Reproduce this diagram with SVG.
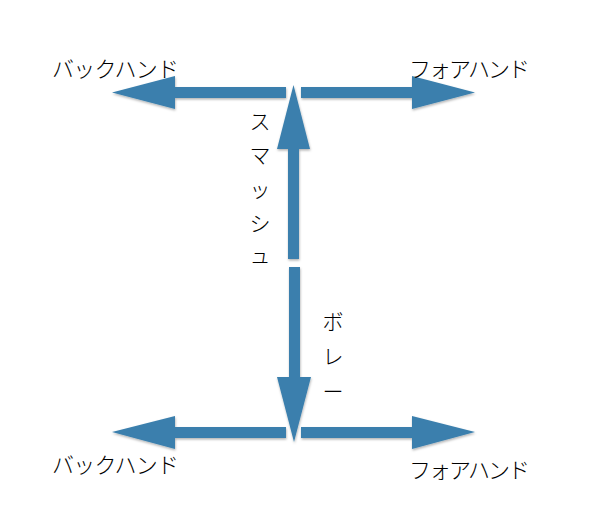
<svg xmlns="http://www.w3.org/2000/svg" width="601" height="526" viewBox="0 0 601 526">
<style>
.arr{fill:#3a7fad;filter:url(#sh)}
.t{font-family:"Noto Sans CJK JP","Noto Sans",sans-serif;font-size:22px;font-weight:300;fill:#000}
.v{font-family:"Noto Sans CJK JP","Noto Sans",sans-serif;font-size:21px;font-weight:300;fill:#000;text-anchor:middle}
</style>
<defs>
<filter id="sh" x="-20%" y="-20%" width="140%" height="140%">
<feDropShadow dx="0.5" dy="1.5" stdDeviation="1.2" flood-color="#000" flood-opacity="0.3"/>
</filter>
</defs>
<rect width="601" height="526" fill="#fff"/>
<g id="connectors">
<polygon class="arr" points="286,87 175,87 175,76 112,92.5 175,109 175,98 286,98"/>
<polygon class="arr" points="301,87 412,87 412,76 475,92.5 412,109 412,98 301,98"/>
<polygon class="arr" points="288,259 288,149 277,149 293.5,85 310,149 299,149 299,259"/>
<polygon class="arr" points="289,267 289,377 277,377 294,442 311,377 300,377 300,267"/>
<polygon class="arr" points="286,427 175,427 175,416 112,432 175,449 175,438 286,438"/>
<polygon class="arr" points="301,427 412,427 412,416 475,432 412,449 412,438 301,438"/>
</g>
<g id="backhand-top"><text class="t" x="52" y="77" textLength="127" lengthAdjust="spacing">バックハンド</text></g>
<g id="forehand-top"><text class="t" x="409" y="77" textLength="121" lengthAdjust="spacing">フォアハンド</text></g>
<g id="backhand-bottom"><text class="t" x="52" y="473" textLength="127" lengthAdjust="spacing">バックハンド</text></g>
<g id="forehand-bottom"><text class="t" x="409" y="478" textLength="121" lengthAdjust="spacing">フォアハンド</text></g>
<g id="smash">
<text class="v" x="260" y="129">ス</text>
<text class="v" x="260" y="163">マ</text>
<text class="v" x="260" y="197">ッ</text>
<text class="v" x="260" y="231">シ</text>
<text class="v" x="260" y="263">ュ</text>
</g>
<g id="volley">
<text class="v" x="333" y="329">ボ</text>
<text class="v" x="333" y="364">レ</text>
<text class="v" x="333" y="399">ー</text>
</g>
</svg>
